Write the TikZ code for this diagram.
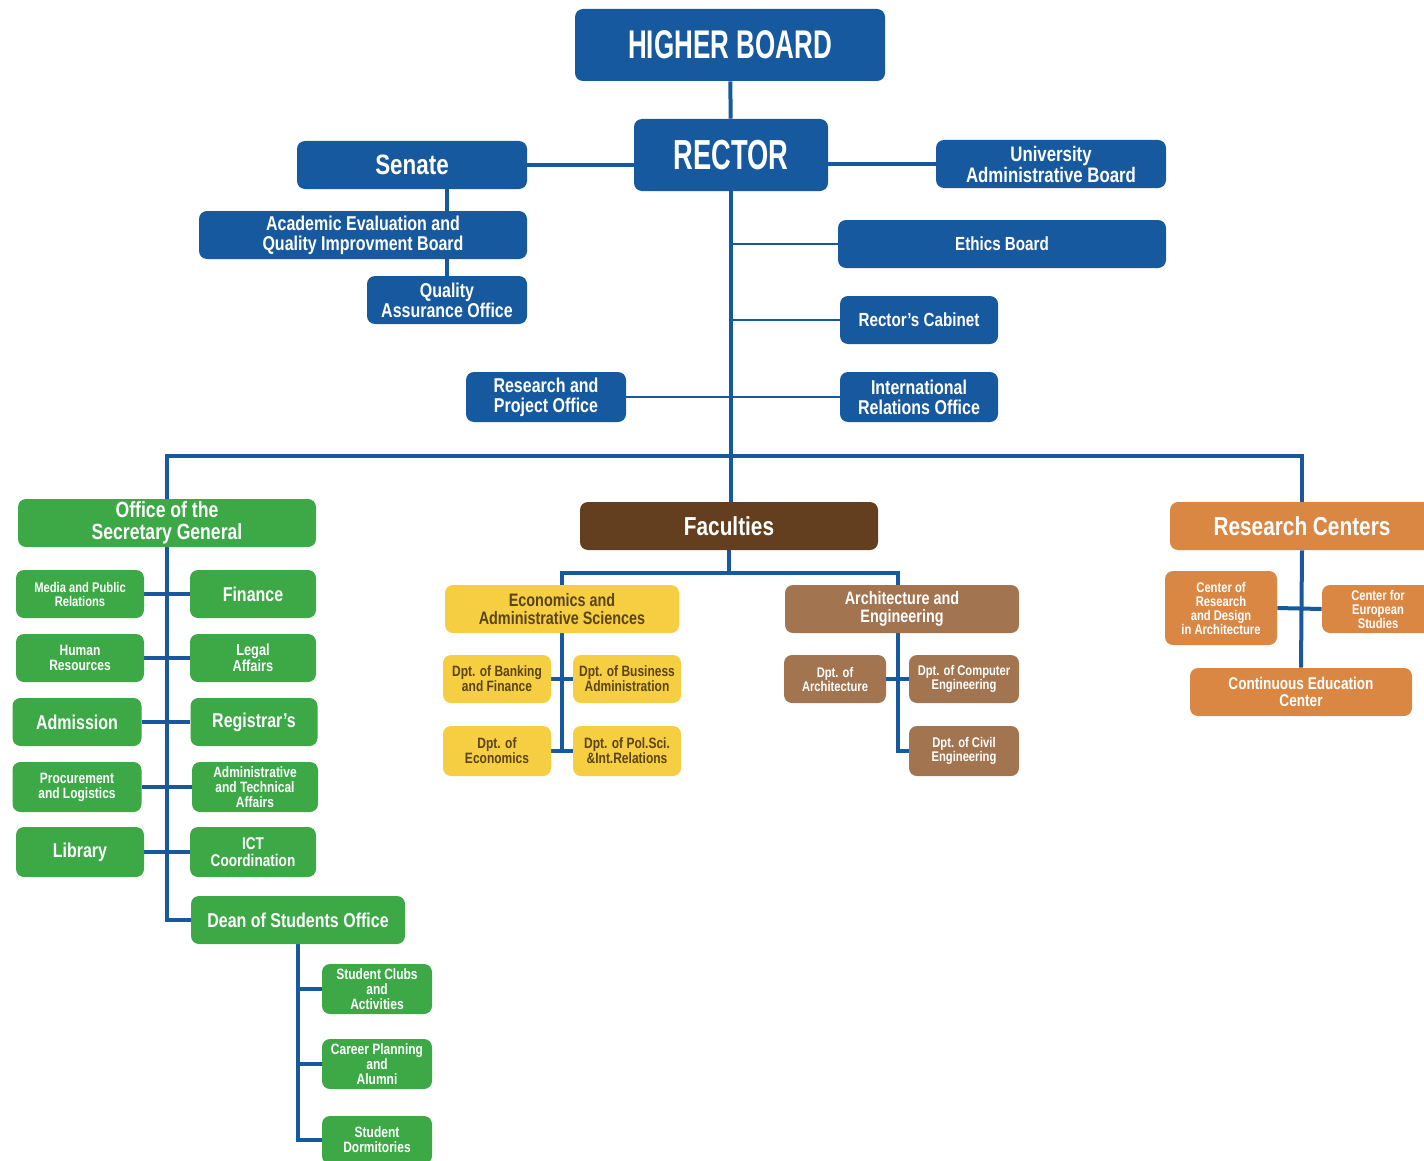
\documentclass[tikz,border=0pt]{standalone}
\usepackage{fontspec}
\setmainfont{Liberation Sans}[FakeStretch=0.8]
\newfontfamily\narrowfont{Liberation Sans}[FakeStretch=0.65]
\usetikzlibrary{positioning,backgrounds}
\definecolor{ublue}{HTML}{17599F}
\definecolor{ugreen}{HTML}{3CA946}
\definecolor{uyellow}{HTML}{F6CE42}
\definecolor{uyeltext}{HTML}{5A4418}
\definecolor{ufac}{HTML}{633F1F}
\definecolor{uarch}{HTML}{A27550}
\definecolor{uorange}{HTML}{DB8744}
\newcommand{\fsz}[1]{\fontsize{#1}{#1}\selectfont\bfseries}
\tikzset{
  unitbox/.style={rounded corners=4pt,align=center,text=white,inner sep=1pt,font=\fsz{#1}},
  unitbox/.default=9,
  bluebox/.style={unitbox=#1,fill=ublue},
  greenbox/.style={unitbox=#1,fill=ugreen},
  yellowbox/.style={unitbox=#1,fill=uyellow,text=uyeltext},
  facbox/.style={unitbox=#1,fill=ufac},
  archbox/.style={unitbox=#1,fill=uarch},
  orangebox/.style={unitbox=#1,fill=uorange},
  link/.style={ublue,line width=2pt},
  thinlink/.style={ublue,line width=1.2pt},
}

\begin{document}
\begin{tikzpicture}[x=0.5pt,y=-0.5pt]
\useasboundingbox (0,0) rectangle (1424,1161);

% top of the chart
\node[bluebox=20, minimum width=155pt, minimum height=36pt] (hb) at (730,45) {\narrowfont HIGHER BOARD};
\node[bluebox=21, minimum width=97pt, minimum height=36pt] (rector) at (731,155) {\narrowfont RECTOR};
\node[bluebox=14, minimum width=115pt, minimum height=24pt] (senate) at (412,165) {Senate};
\node[bluebox=10.5, minimum width=115pt, minimum height=24pt] (uab) at (1051,164)
  {University\\Administrative Board};
\node[bluebox=10, minimum width=164pt, minimum height=24pt] (aeqib) at (363,235)
  {Academic Evaluation and\\Quality Improvment Board};
\node[bluebox=10, minimum width=80pt, minimum height=24pt] (qao) at (447,300)
  {Quality\\Assurance Office};
\node[bluebox=9.5, minimum width=164pt, minimum height=24pt] (ethics) at (1002,244) {Ethics Board};
\node[bluebox=9.5, minimum width=79pt, minimum height=24pt] (cabinet) at (919,320) {Rector's Cabinet};
\node[bluebox=10, minimum width=80pt, minimum height=25pt] (rpo) at (546,397)
  {Research and\\Project Office};
\node[bluebox=10, minimum width=79pt, minimum height=25pt] (iro) at (919,397)
  {International\\Relations Office};

% secretary general
\node[greenbox=11, minimum width=149pt, minimum height=24pt] (sec) at (167,523)
  {Office of the\\Secretary General};
\node[greenbox=7, minimum width=64pt, minimum height=24pt] (media) at (80,594) {Media and Public\\Relations};
\node[greenbox=10, minimum width=63pt, minimum height=24pt] (finance) at (253,594) {Finance};
\node[greenbox=7.5, minimum width=64pt, minimum height=24pt] (hr) at (80,658) {Human\\Resources};
\node[greenbox=8, minimum width=63pt, minimum height=24pt] (legal) at (253,658) {Legal\\Affairs};
\node[greenbox=10, minimum width=64.5pt, minimum height=24pt] (admission) at (77,722) {Admission};
\node[greenbox=10, minimum width=63.5pt, minimum height=24pt] (registrar) at (254,722) {Registrar's};
\node[greenbox=7.5, minimum width=64.5pt, minimum height=25pt] (procure) at (77,787)
  {Procurement\\and Logistics};
\node[greenbox=7.5, minimum width=63pt, minimum height=25pt] (admtech) at (255,787)
  {Administrative\\and Technical\\Affairs};
\node[greenbox=10, minimum width=64pt, minimum height=25pt] (library) at (80,852) {Library};
\node[greenbox=8.5, minimum width=63pt, minimum height=25pt] (ict) at (253,852) {ICT\\Coordination};
\node[greenbox=10, minimum width=107pt, minimum height=24pt] (dean) at (298,920) {Dean of Students Office};
\node[greenbox=7.5, minimum width=55pt, minimum height=25pt] (clubs) at (377,989)
  {Student Clubs\\and\\Activities};
\node[greenbox=7.5, minimum width=55pt, minimum height=25pt] (career) at (377,1064)
  {Career Planning\\and\\Alumni};
\node[greenbox=7.5, minimum width=55pt, minimum height=24pt] (dorm) at (377,1140)
  {Student\\Dormitories};

% faculties
\node[facbox=13, minimum width=149pt, minimum height=24pt] (fac) at (729,526) {Faculties};
\node[yellowbox=9, minimum width=117pt, minimum height=24pt] (econ) at (562,609)
  {Economics and\\Administrative Sciences};
\node[yellowbox=7.5, minimum width=54pt, minimum height=24pt] (bank) at (497,679)
  {Dpt. of Banking\\and Finance};
\node[yellowbox=7.5, minimum width=54pt, minimum height=24pt] (busadm) at (627,679)
  {Dpt. of Business\\Administration};
\node[yellowbox=7.5, minimum width=54pt, minimum height=25pt] (ecodpt) at (497,751)
  {Dpt. of\\Economics};
\node[yellowbox=7.5, minimum width=54pt, minimum height=25pt] (polsci) at (627,751)
  {Dpt. of Pol.Sci.\\\&Int.Relations};
\node[archbox=9, minimum width=117pt, minimum height=24pt] (arch) at (902,609)
  {Architecture and\\Engineering};
\node[archbox=7, minimum width=51pt, minimum height=24pt] (dparch) at (835,679)
  {Dpt. of\\Architecture};
\node[archbox=7, minimum width=55pt, minimum height=24pt] (comp) at (964,679)
  {Dpt. of Computer\\Engineering};
\node[archbox=7, minimum width=55pt, minimum height=25pt] (civil) at (964,751)
  {Dpt. of Civil\\Engineering};

% research centers
\node[orangebox=13, minimum width=132pt, minimum height=24pt] (rc) at (1302,526) {Research Centers};
\node[orangebox=7, minimum width=56pt, minimum height=37pt] (crd) at (1221,608)
  {Center of\\Research\\and Design\\in Architecture};
\node[orangebox=7, minimum width=56pt, minimum height=24pt] (ces) at (1378,609)
  {Center for\\European\\Studies};
\node[orangebox=8.5, minimum width=111pt, minimum height=24pt] (cont) at (1301,692)
  {Continuous Education\\Center};

\coordinate (bus) at (731,456);

\begin{scope}[on background layer]
  \draw[link] (hb) -- (rector);
  \draw[link] (senate.east) -- (senate.east -| rector.west);
  \draw[link] (rector.east |- uab.west) -- (uab.west);
  \draw[link] (qao.north |- senate.south) -- (qao.north);
  \draw[link] (rector.south) -- (bus);
  \draw[thinlink] (rector.south |- ethics.west) -- (ethics.west);
  \draw[thinlink] (rector.south |- cabinet.west) -- (cabinet.west);
  \draw[thinlink] (rpo.east) -- (iro.west);
  \draw[link] (sec.north) |- (bus) -| (rc.north);
  \draw[link] (bus) -- (bus |- fac.north);
  % secretary general branch
  \draw[link] (sec.south) |- (dean.west);
  \draw[link] (media.east) -- (finance.west);
  \draw[link] (hr.east) -- (legal.west);
  \draw[link] (admission.east) -- (registrar.west);
  \draw[link] (procure.east) -- (admtech.west);
  \draw[link] (library.east) -- (ict.west);
  \draw[link] (dean.south) |- (dorm.west);
  \draw[link] (dean.south |- clubs.west) -- (clubs.west);
  \draw[link] (dean.south |- career.west) -- (career.west);
  % faculties branch
  \draw[link] (fac.south) -- ++(0,24);
  \draw[link] (econ.north) -- ++(0,-12) -| ([xshift=-2pt]arch.north);
  \draw[link] (econ.south) -- ++(0,119);
  \draw[link] (bank.east) -- (busadm.west);
  \draw[link] (ecodpt.east) -- (polsci.west);
  \draw[link] ([xshift=-2pt]arch.south) |- (civil.west);
  \draw[link] (dparch.east) -- (comp.west);
  % research branch
  \draw[link] (rc.south) -- (cont.north);
  \draw[link] (crd.east) -- (ces.west);
\end{scope}

\end{tikzpicture}
\end{document}
